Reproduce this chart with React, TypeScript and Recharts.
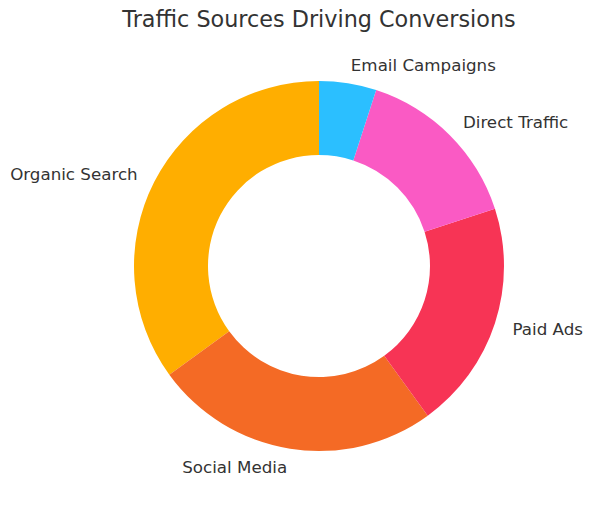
import { PieChart, Pie, Cell } from "recharts"

const sources = ["Organic Search", "Social Media", "Paid Ads", "Direct Traffic", "Email Campaigns"]
const shares = [35, 25, 20, 15, 5]
const colors = ["#FFAE00", "#F46A25", "#F73455", "#FA5AC4", "#2BBFFF"]

const data = sources.map((name, i) => ({ name, value: shares[i] }))

const RAD = Math.PI / 180

const renderLabel = (props: any) => {
  const { cx, cy, midAngle, outerRadius, name } = props
  const r = outerRadius * 1.1
  const x = cx + r * Math.cos(-midAngle * RAD)
  const y = cy + r * Math.sin(-midAngle * RAD)
  return (
    <text
      x={x}
      y={y}
      fill="#333333"
      fontSize={16.7}
      fontFamily="DejaVu Sans"
      textAnchor={x > cx ? "start" : "end"}
      dominantBaseline="central"
    >
      {name}
    </text>
  )
}

export default function App() {
  return (
    <div style={{ position: "absolute", left: 0, top: 0, width: 592, height: 507, background: "#fff" }}>
      <PieChart width={592} height={507} margin={{ top: 0, right: 0, bottom: 0, left: 0 }}>
        <text x={319} y={27} textAnchor="middle" fill="#333333" fontSize={22.3} fontFamily="DejaVu Sans">
          Traffic Sources Driving Conversions
        </text>
        <Pie
          data={data}
          dataKey="value"
          nameKey="name"
          cx={319}
          cy={266}
          innerRadius={111}
          outerRadius={185}
          startAngle={90}
          endAngle={450}
          stroke="none"
          label={renderLabel}
          labelLine={false}
          isAnimationActive={false}
        >
          {data.map((d, i) => (
            <Cell key={d.name} fill={colors[i]} />
          ))}
        </Pie>
      </PieChart>
    </div>
  )
}
